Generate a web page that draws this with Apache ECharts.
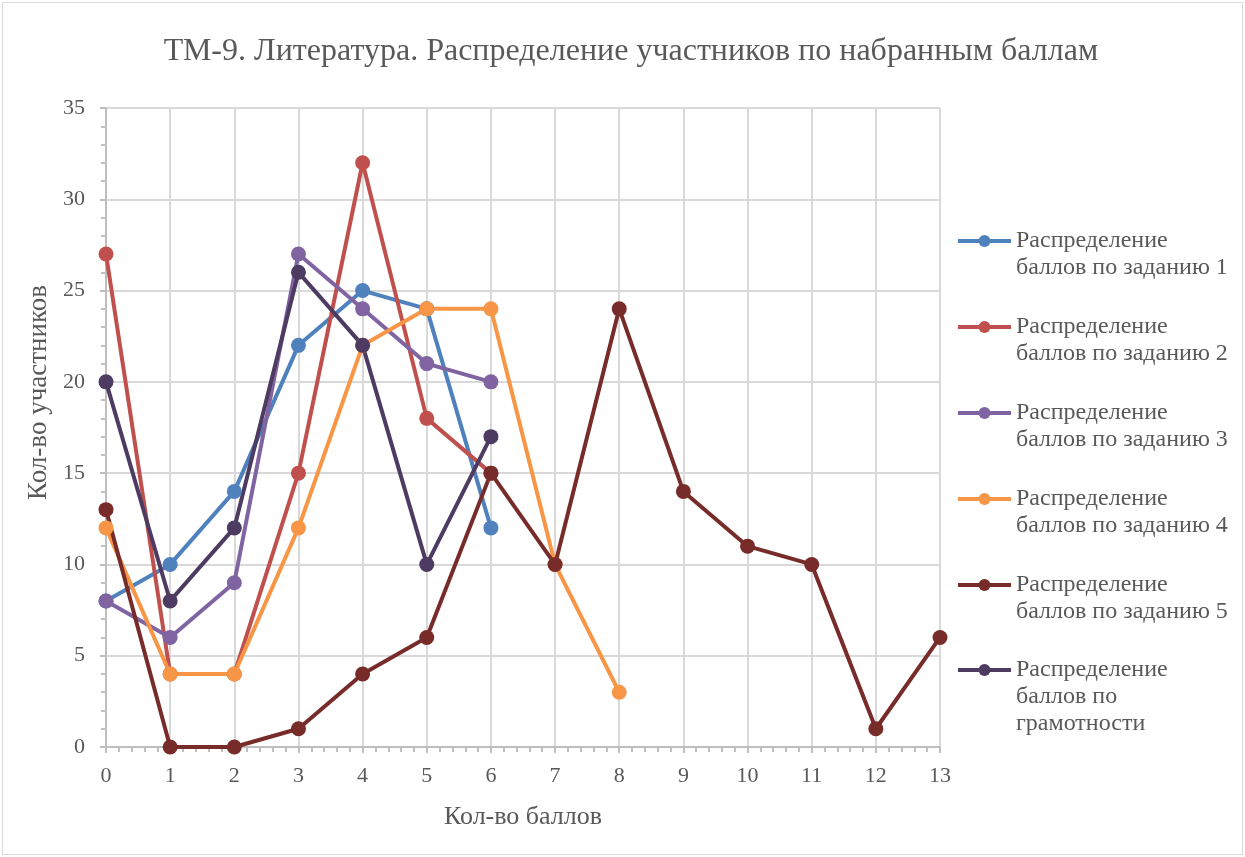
<!DOCTYPE html>
<html>
<head>
<meta charset="utf-8">
<script src="https://cdn.jsdelivr.net/npm/echarts@6/dist/echarts.min.js"></script>
<style>
  html, body { margin: 0; padding: 0; background: #fff; }
  #chart { position: absolute; left: 2px; top: 2px; width: 1239px; height: 851px; border: 1px solid #d9d9d9; }
</style>
</head>
<body>
<div id="chart"></div>
<script>
var scores = [0, 1, 2, 3, 4, 5, 6, 7, 8, 9, 10, 11, 12, 13];
var task1 = [8, 10, 14, 22, 25, 24, 12];
var task2 = [27, 4, 4, 15, 32, 18, 15];
var task3 = [8, 6, 9, 27, 24, 21, 20];
var task4 = [12, 4, 4, 12, 22, 24, 24, 10, 3];
var task5 = [13, 0, 0, 1, 4, 6, 15, 10, 24, 14, 11, 10, 1, 6];
var literacy = [20, 8, 12, 26, 22, 10, 17];
var names = [
  'Распределение\nбаллов по заданию 1',
  'Распределение\nбаллов по заданию 2',
  'Распределение\nбаллов по заданию 3',
  'Распределение\nбаллов по заданию 4',
  'Распределение\nбаллов по заданию 5',
  'Распределение\nбаллов по\nграмотности'
];
var colors = ['#4F81BD', '#C0504D', '#8064A2', '#F79646', '#772C2A', '#4D3B62'];
var allData = [task1, task2, task3, task4, task5, literacy];

var chartDom = document.getElementById('chart');
var myChart = echarts.init(chartDom);
var font = '"Liberation Serif", "Times New Roman", serif';
var textColor = '#595959';
var lineH = 27;
// icon centre of each legend entry (chart coords)
var legendIconY = [238, 324, 410, 496, 582, 667];

function pairs(arr) {
  return arr.map(function (v, i) { return [scores[i], v]; });
}

var series = allData.map(function (arr, k) {
  return {
    name: names[k],
    type: 'line',
    data: pairs(arr),
    color: colors[k],
    symbol: 'circle',
    symbolSize: 15,
    lineStyle: {width: 4},
    emphasis: {disabled: true}
  };
});

// one legend per entry; blank lines in front keep the icon on the first text line
var legends = names.map(function (n, k) {
  var lines = n.split('\n').length;
  var lead = new Array(lines).join('\n');
  return {
    data: [n],
    orient: 'vertical',
    left: 953,
    top: legendIconY[k] - (2 * lines - 1) * lineH / 2,
    padding: 0,
    itemWidth: 53, itemHeight: 15,
    lineStyle: {width: 4},
    formatter: function (name) { return lead + name; },
    textStyle: {fontFamily: font, fontSize: 24, color: textColor, lineHeight: lineH}
  };
});

function axisStyle(margin) {
  return {
    axisLine: {show: true, lineStyle: {color: '#bfbfbf', width: 2}},
    axisTick: {show: true, length: 6, lineStyle: {color: '#bfbfbf', width: 2}},
    minorTick: {show: true, splitNumber: 5, length: 5, lineStyle: {color: '#bfbfbf', width: 2}},
    axisLabel: {fontFamily: font, fontSize: 22, color: textColor, margin: margin},
    splitLine: {show: true, lineStyle: {color: '#d9d9d9', width: 2}}
  };
}

var option = {
  animation: false,
  textStyle: {fontFamily: font},
  title: {
    text: 'ТМ-9. Литература. Распределение участников по набранным баллам',
    left: 623, top: 28, textAlign: 'center',
    textStyle: {fontFamily: font, fontSize: 32, fontWeight: 'normal', color: textColor}
  },
  legend: legends,
  grid: {left: 103, right: 302, top: 105, bottom: 107},
  xAxis: Object.assign({
    type: 'value', min: 0, max: 13, interval: 1,
    name: 'Кол-во баллов', nameLocation: 'middle', nameGap: 57,
    nameTextStyle: {fontFamily: font, fontSize: 26, color: textColor}
  }, axisStyle(18)),
  yAxis: Object.assign({
    type: 'value', min: 0, max: 35, interval: 5,
    name: 'Кол-во участников', nameLocation: 'middle', nameGap: 53,
    nameTextStyle: {fontFamily: font, fontSize: 27, color: textColor, padding: [0, 0, 0, 70]}
  }, axisStyle(21)),
  series: series
};
option && myChart.setOption(option);
</script>
</body>
</html>
